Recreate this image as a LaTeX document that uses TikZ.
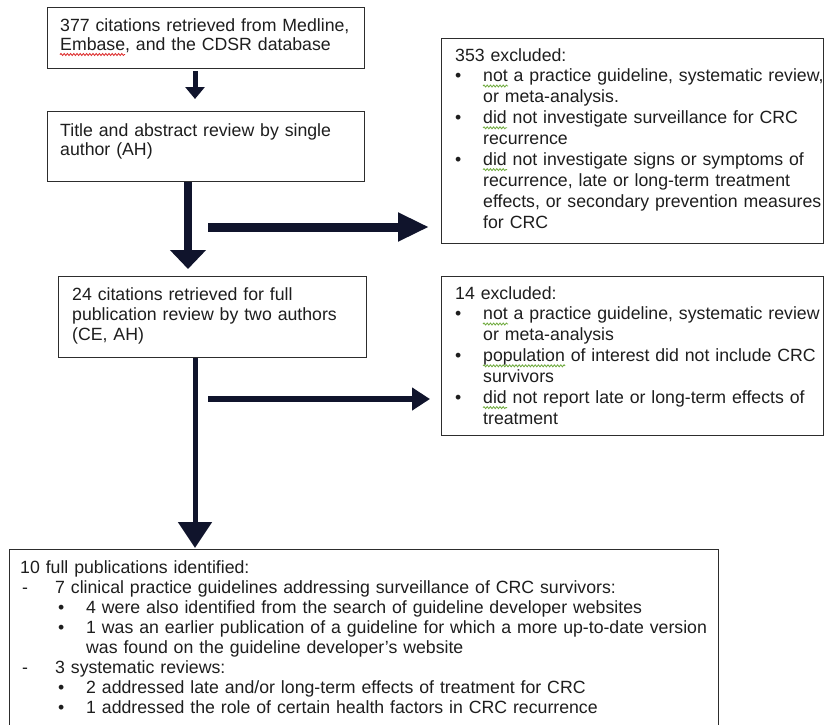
\documentclass[tikz,border=0pt]{standalone}
\usepackage{fontspec}
\setmainfont{Liberation Sans}
\usetikzlibrary{arrows.meta,decorations.pathmorphing}
\definecolor{arrowc}{RGB}{16,20,44}
\definecolor{boxc}{RGB}{45,45,45}
\definecolor{textc}{RGB}{30,30,30}
\definecolor{sqred}{RGB}{220,40,40}
\definecolor{sqgreen}{RGB}{110,170,60}
\hyphenpenalty=10000\relax
\exhyphenpenalty=10000\relax
\newcommand\bitem[1]{\par\noindent\hangindent=28pt\hangafter=1\makebox[28pt][l]{\textbullet}#1}
\newcommand\ditem[1]{\par\noindent\hangindent=35pt\hangafter=1\hspace*{2pt}\makebox[33pt][l]{-}#1}
\newcommand\eitem[1]{\par\noindent\hangindent=66pt\hangafter=1\hspace*{38pt}\makebox[28pt][l]{\textbullet}#1}
\begin{document}
\begin{tikzpicture}[x=1pt,y=-1pt,
  box/.style={draw=boxc, line width=1.2pt, fill=white, inner sep=0pt, anchor=north west},
  txt/.style={text=textc, inner sep=0pt, anchor=base west, align=left},
  fl/.style={font=\fontsize{17.7}{19.5}\selectfont},
  fr/.style={font=\fontsize{17.7}{20.9}\selectfont},
  fb/.style={font=\fontsize{17.7}{20}\selectfont},
  squig/.style={line width=0.8pt, decorate, decoration={snake, segment length=3.2pt, amplitude=1pt}},
  arr/.style={draw=arrowc, fill=arrowc}]
\useasboundingbox (0,0) rectangle (826,724);
\fill[white] (0,0) rectangle (826,724);

% boxes
\node[box, minimum width=317pt, minimum height=61pt] (b1) at (47,7) {};
\node[box, minimum width=317pt, minimum height=70pt] (b2) at (47,111) {};
\node[box, minimum width=308pt, minimum height=81pt] (b3) at (58,276) {};
\node[box, minimum width=382pt, minimum height=205pt] (b5) at (441,38) {};
\node[box, minimum width=382pt, minimum height=159pt] (b6) at (441,276) {};
\node[box, minimum width=709pt, minimum height=190pt] (b4) at (9,549) {};

% texts
\node[txt, fl, text width=300pt] (t1) at (60,31) {377 citations retrieved from Medline,\newline Embase, and the CDSR database\par};
\node[txt, fl, text width=300pt] (t2) at (60,136) {Title and abstract review by single\newline author (AH)\par};
\node[txt, fb, text width=290pt] (t3) at (72,300) {24 citations retrieved for full\newline publication review by two authors\newline (CE, AH)\par};
\node[txt, fr, text width=395pt] (t5) at (455,61) {353 excluded:%
\bitem{not a practice guideline, systematic review,\newline or meta-analysis.}%
\bitem{did not investigate surveillance for CRC\newline recurrence}%
\bitem{did not investigate signs or symptoms of\newline recurrence, late or long-term treatment\newline effects, or secondary prevention measures\newline for CRC}\par};
\node[txt, fr, text width=395pt] (t6) at (455,299) {14 excluded:%
\bitem{not a practice guideline, systematic review\newline or meta-analysis}%
\bitem{population of interest did not include CRC\newline survivors}%
\bitem{did not report late or long-term effects of\newline treatment}\par};
\node[txt, fb, text width=700pt] (t4) at (20,573) {10 full publications identified:%
\ditem{7 clinical practice guidelines addressing surveillance of CRC survivors:}%
\eitem{4 were also identified from the search of guideline developer websites}%
\eitem{1 was an earlier publication of a guideline for which a more up-to-date version\newline was found on the guideline developer's website}%
\ditem{3 systematic reviews:}%
\eitem{2 addressed late and/or long-term effects of treatment for CRC}%
\eitem{1 addressed the role of certain health factors in CRC recurrence}\par};

% spell-check underlines
\draw[squig, sqred]   ([xshift=0pt,yshift=-23.5pt]t1.base west) -- ++(65,0);
\draw[squig, sqgreen] ([xshift=28pt,yshift=-25pt]t5.base west) -- ++(25,0);
\draw[squig, sqgreen] ([xshift=28pt,yshift=-66.8pt]t5.base west) -- ++(24,0);
\draw[squig, sqgreen] ([xshift=28pt,yshift=-108.6pt]t5.base west) -- ++(24,0);
\draw[squig, sqgreen] ([xshift=28pt,yshift=-25pt]t6.base west) -- ++(25,0);
\draw[squig, sqgreen] ([xshift=28pt,yshift=-66.8pt]t6.base west) -- ++(82,0);
\draw[squig, sqgreen] ([xshift=28pt,yshift=-108.6pt]t6.base west) -- ++(24,0);

% connectors
\coordinate (xa) at (195,0);
\coordinate (xb) at (188,0);
\coordinate (h1) at (208,227);
\coordinate (h2) at (208,399);
\draw[arr, line width=5pt, -{Triangle[width=19pt,length=12pt]}, shorten <=2pt, shorten >=12pt] (b1.south -| xa) -- (b2.north -| xa);
\draw[arr, line width=8pt, -{Triangle[width=35pt,length=19pt]}, shorten >=7pt] (b2.south -| xb) -- (b3.north -| xb);
\draw[arr, line width=9pt, -{Triangle[width=27pt,length=31pt]}, shorten >=12pt] (h1) -- (b5.west |- h1);
\draw[arr, line width=5pt, -{Triangle[width=33pt,length=26pt]}, shorten >=1pt] (b3.south -| xa) -- (b4.north -| xa);
\draw[arr, line width=6.5pt, -{Triangle[width=22pt,length=18pt]}, shorten >=11pt] (h2) -- (b6.west |- h2);
\end{tikzpicture}
\end{document}
